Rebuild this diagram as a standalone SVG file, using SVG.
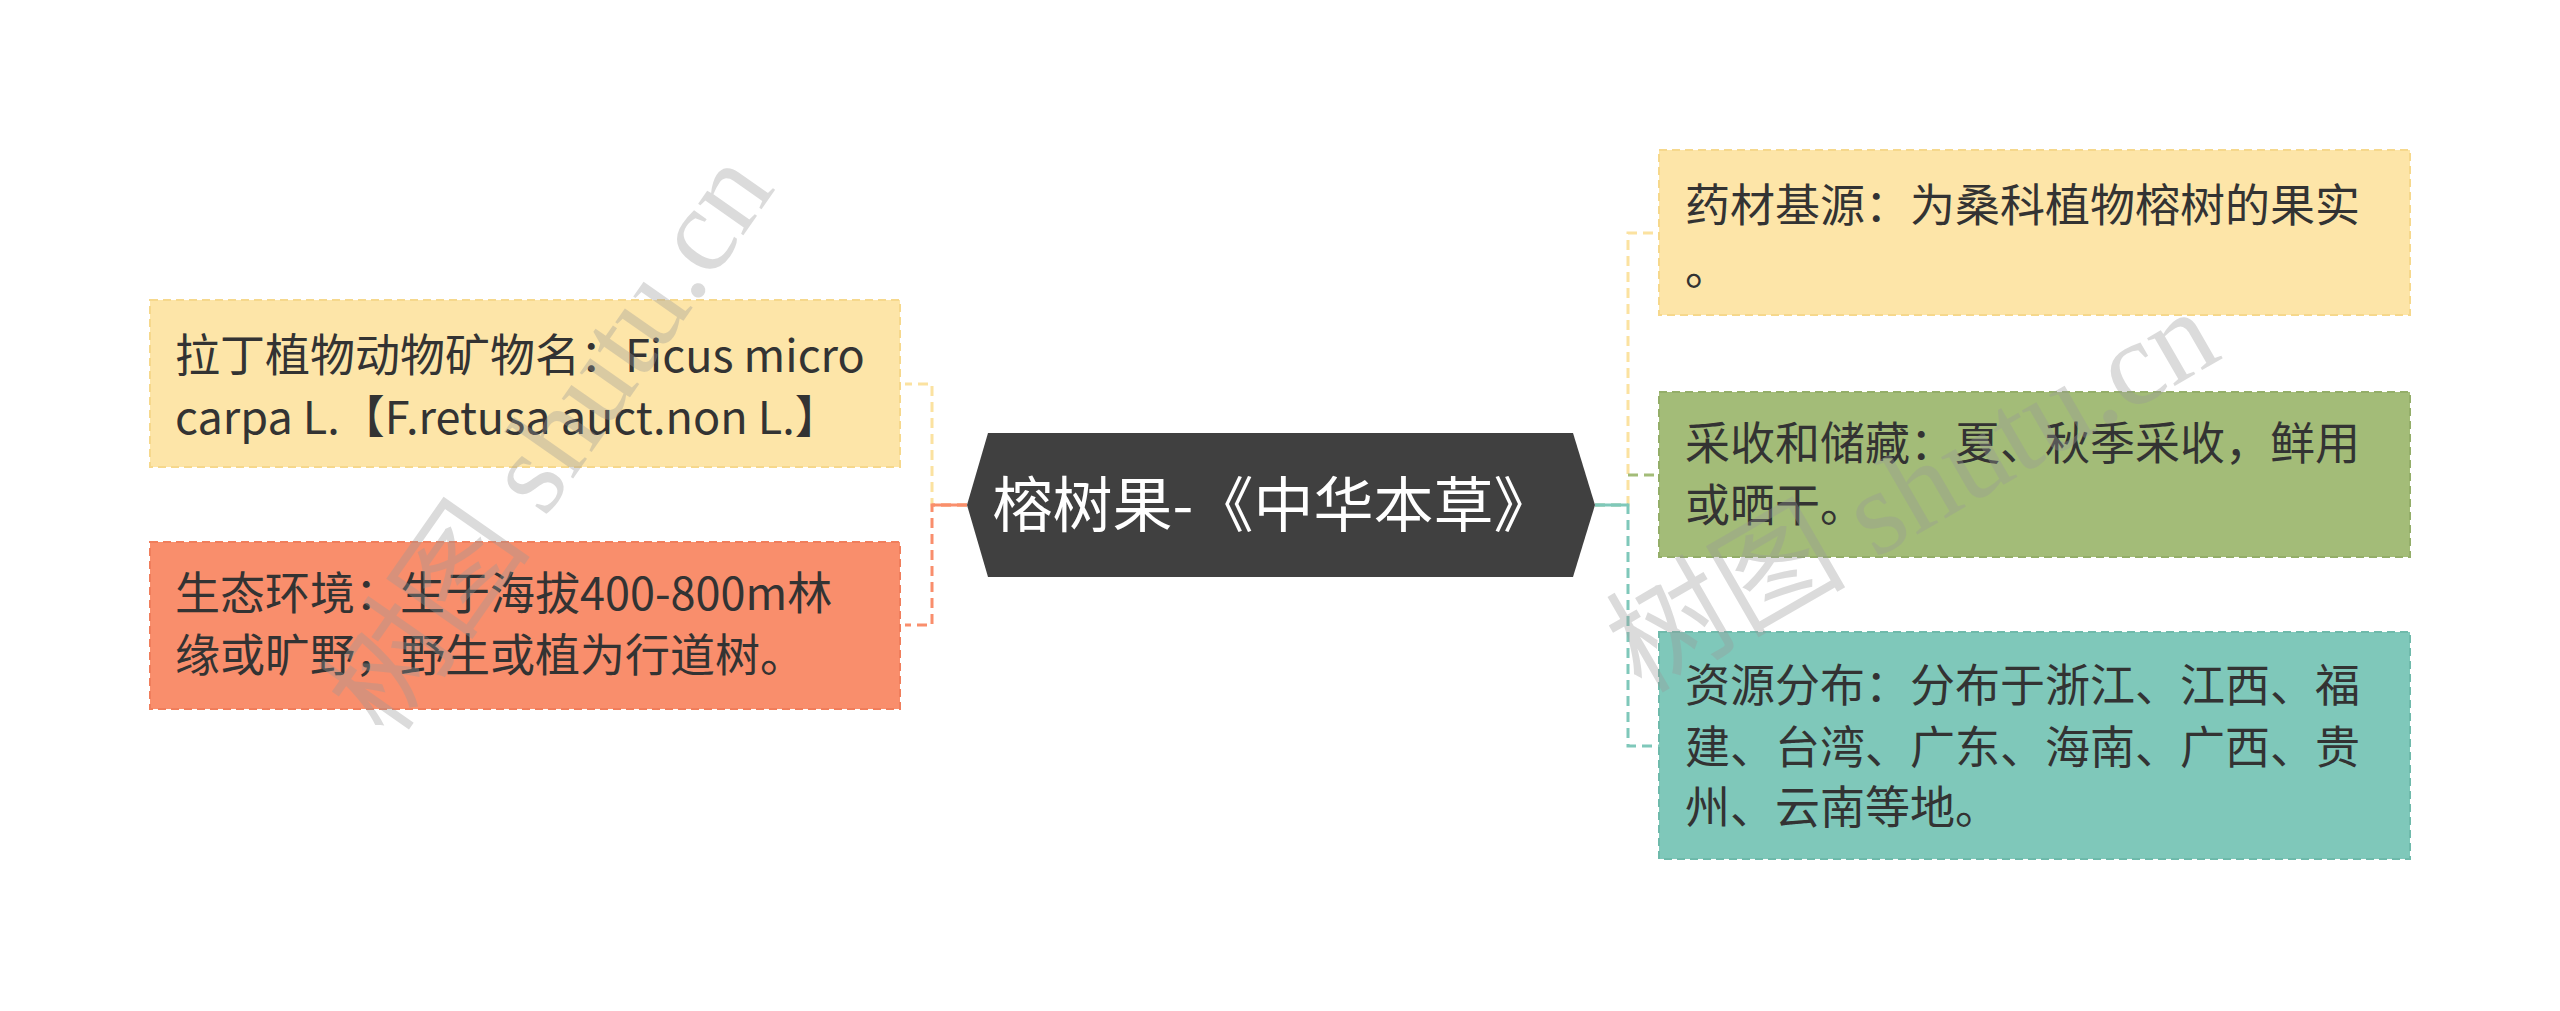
<svg xmlns="http://www.w3.org/2000/svg" width="2560" height="1011" viewBox="0 0 2560 1011">
<style>
text{font-family:"Noto Sans CJK SC","Noto Sans",sans-serif;font-size:45px;fill:#333}
.box{stroke-width:2;stroke-dasharray:8 5}
.c{fill:none;stroke-width:3;stroke-dasharray:10 6}
.wm{font-family:"Liberation Serif","Noto Sans CJK SC",serif;font-size:120px;fill:#999;opacity:0.35}
</style>
<rect width="2560" height="1011" fill="#fff"/>
<g id="connectors">
<path class="c" stroke="#FBE2A0" d="M967 505 H932 V384 H905"/>
<path class="c" stroke="#F98E6C" d="M967 505 H932 V625 H905"/>
<path class="c" stroke="#F98E6C" style="stroke-dasharray:none" d="M967 505 H932"/>
<path class="c" stroke="#FBE2A0" d="M1595 505 H1628 V233 H1659"/>
<path class="c" stroke="#A3BC78" d="M1628 475 H1659"/>
<path class="c" stroke="#7FC8BA" d="M1595 505 H1628 V746 H1659"/>
<path class="c" stroke="#7FC8BA" style="stroke-dasharray:none" d="M1595 505 H1628"/>
</g>
<g id="center">
<polygon points="967,505 988,433 1573,433 1595,505 1573,577 988,577" fill="#404040"/>
<text x="1273" y="527" text-anchor="middle" style="font-size:60px;fill:#fff">榕树果-《中华本草》</text>
</g>
<g id="n1">
<rect class="box" x="150" y="300" width="750" height="167" fill="#FDE5A8" stroke="#F6D88C"/>
<text x="175" y="372">拉丁植物动物矿物名：Ficus micro</text>
<text x="175" y="434">carpa L.【F.retusa auct.non L.】</text>
</g>
<g id="n2">
<rect class="box" x="150" y="542" width="750" height="167" fill="#F98E6C" stroke="#F07E5C"/>
<text x="175" y="610">生态环境：生于海拔400-800m林</text>
<text x="175" y="672">缘或旷野，野生或植为行道树。</text>
</g>
<g id="n3">
<rect class="box" x="1659" y="150" width="751" height="165" fill="#FDE5A8" stroke="#F6D88C"/>
<text x="1685" y="222">药材基源：为桑科植物榕树的果实</text>
<text x="1685" y="285">。</text>
</g>
<g id="n4">
<rect class="box" x="1659" y="392" width="751" height="165" fill="#A3BC78" stroke="#94AE69"/>
<text x="1685" y="460">采收和储藏：夏、秋季采收，鲜用</text>
<text x="1685" y="522">或晒干。</text>
</g>
<g id="n5">
<rect class="box" x="1659" y="632" width="751" height="227" fill="#7FC8BA" stroke="#6FBAAB"/>
<text x="1685" y="702">资源分布：分布于浙江、江西、福</text>
<text x="1685" y="764">建、台湾、广东、海南、广西、贵</text>
<text x="1685" y="824">州、云南等地。</text>
</g>
<text class="wm" transform="translate(390,740) rotate(-55)">树图 shutu.cn</text>
<text class="wm" transform="translate(1641,694) rotate(-30)">树图 shutu.cn</text>
</svg>
